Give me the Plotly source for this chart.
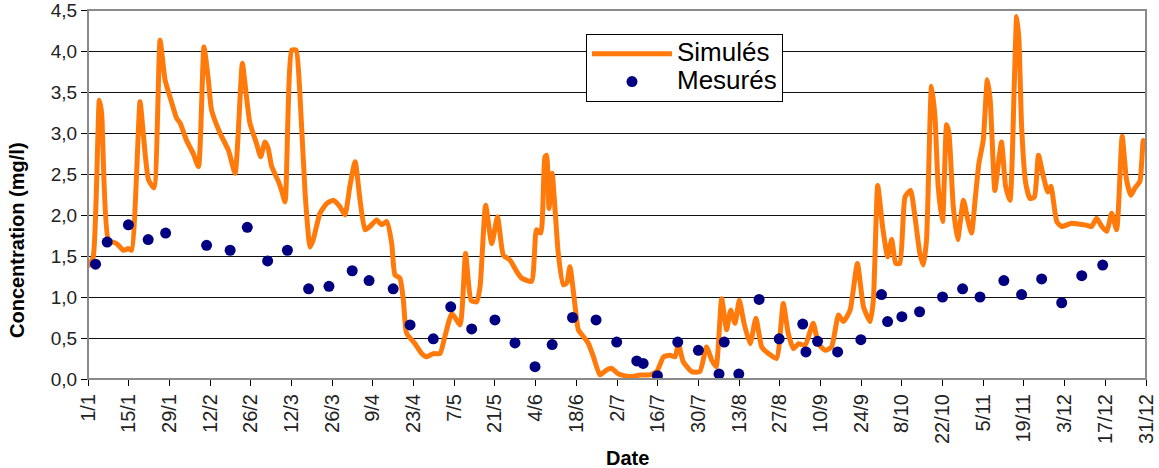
import plotly.graph_objects as go

# Simulated concentration (day of year, mg/l)
sim_day = [0, 1.8, 3.9, 4.7, 7, 9.9, 12.2, 13.9, 15, 17.9, 19, 20.8, 22.7, 24.8, 26.5, 28.2,
           30.5, 31.7, 33.9, 36.2, 38, 39.9, 41.4, 42.5, 45.4, 48.3, 50.6, 53.1, 54.4, 55.7,
           58, 59.4, 60.9, 62, 63.2, 65.5, 66.6, 67.8, 70.1, 71.6, 72.9, 74.7, 76.4, 77.5,
           79.8, 82.1, 84.4, 86.7, 88.4, 90.1, 91.9, 93.6, 95.3, 97, 99.3, 101, 102.8, 104.5,
           105.6, 107.3, 108.5, 109.6, 112.5, 114.8, 116.5, 118.8, 121.1, 122.8, 125.2, 128,
           129.9, 131.8, 133.7, 134.9, 136.8, 138.9, 140.9, 142.9, 145.2, 147.5, 149.2, 152.6,
           154.3, 155.8, 157.2, 157.8, 158.6, 159.7, 160.7, 161.8, 163.5, 164.7, 165.8, 167.6,
           168.7, 170.4, 172.2, 173.9, 176.1, 178.4, 180.2, 182.5, 186.5, 190, 193.3, 195.7,
           198, 200.2, 202, 203.1, 204.8, 207.7, 210.5, 212.8, 214.6, 216.1, 218, 219.7, 221.1,
           222.6, 224.1, 225.7, 227.8, 229.8, 231.8, 234.1, 236.9, 239.2, 240.9, 242.7, 244.5,
           246.7, 249.5, 251.3, 253.6, 255.8, 258.2, 259.9, 262.2, 264.7, 266.8, 269.1, 270.2,
           271.7, 273.4, 275.1, 276.5, 277.9, 279.3, 281.1, 283, 284.5, 286.2, 287.4, 288.5,
           290.2, 291.4, 292.5, 294, 295.4, 296.2, 297.7, 299.2, 301.2, 302.7, 304, 305.2, 306.5,
           308, 309.4, 310.4, 312, 313.2, 314.3, 315.7, 317.2, 318.7, 319.5, 320.3, 321.2, 322.6,
           324.1, 325.6, 327, 328.7, 330.2, 331.3, 333.3, 335, 338.4, 340.7, 343, 345.3, 347,
           348.8, 350.5, 352.2, 353.9, 355.8, 357.3, 358.8, 360.2, 361.9, 363.1, 364]
sim_val = [1.37, 1.49, 3.40, 3.24, 1.70, 1.65, 1.57, 1.59, 1.57, 3.38, 3.0, 2.43, 2.33, 4.13, 3.65, 3.44,
           3.18, 3.12, 2.91, 2.75, 2.59, 4.05, 3.65, 3.28, 3.0, 2.79, 2.51, 3.85, 3.48, 3.12,
           2.87, 2.71, 2.89, 2.81, 2.59, 2.41, 2.30, 2.16, 4.01, 4.01, 3.48, 2.26, 1.61, 1.70,
           2.02, 2.14, 2.18, 2.10, 2.0, 2.35, 2.65, 2.18, 1.82, 1.86, 1.94, 1.88, 1.92, 1.65,
           1.27, 1.23, 0.96, 0.56, 0.43, 0.31, 0.27, 0.31, 0.31, 0.52, 0.80, 0.66,
           1.53, 0.96, 0.94, 1.13, 2.12, 1.65, 1.98, 1.51, 1.45, 1.31, 1.23, 1.19,
           1.82, 1.78, 2.71, 2.73, 2.08, 2.51, 2.06, 1.53, 1.15, 1.17, 1.37, 0.88,
           0.60, 0.52, 0.43, 0.27, 0.05, 0.11, 0.13, 0.06, 0.03, 0.05, 0.05, 0.09,
           0.27, 0.29, 0.27, 0.43, 0.21, 0.09, 0.09, 0.39, 0.23, 0.15, 0.98, 0.60, 0.84,
           0.68, 0.96, 0.68, 0.43, 0.74, 0.39, 0.31, 0.25, 0.92, 0.56, 0.37, 0.43,
           0.41, 0.68, 0.43, 0.35, 0.39, 0.78, 0.70, 0.84, 1.41, 0.88, 0.70, 0.96,
           2.36, 1.85, 1.49, 1.70, 1.41, 1.41, 2.22, 2.30, 1.98, 1.53, 1.39, 1.70,
           3.57, 3.20, 2.35, 1.92, 3.10, 3.0, 2.10, 1.70, 2.18, 1.94, 1.78, 2.18, 2.63,
           2.91, 3.65, 3.40, 2.30, 2.63, 2.89, 2.35, 2.18, 3.61, 4.42, 4.13, 3.08, 2.39,
           2.20, 2.22, 2.73, 2.47, 2.28, 2.35, 1.92, 1.86, 1.90, 1.89, 1.88, 1.86, 1.96,
           1.86, 1.80, 2.02, 1.82, 2.96, 2.43, 2.24, 2.33, 2.41, 2.91, 2.81]

# Measured concentration (day of year, mg/l)
mes_day = [2.6, 6.6, 13.9, 20.7, 26.7, 40.8, 48.9, 54.8, 61.8, 68.6, 75.9, 82.9, 90.9, 96.7,
           105, 110.8, 118.8, 124.8, 132, 140, 146.9, 153.8, 159.7, 166.7, 174.8, 181.9,
           188.8, 191, 195.9, 202.9, 210, 217.1, 218.9, 223.9, 230.9, 237.8, 245.9, 247,
           251, 257.9, 265.9, 273, 275.1, 280, 286.1, 294, 300.9, 306.9, 315.1, 321.2,
           328.1, 335, 341.9, 349.1]
mes_val = [1.40, 1.67, 1.88, 1.70, 1.78, 1.63, 1.57, 1.85, 1.44, 1.57, 1.10, 1.13, 1.32, 1.20,
           1.10, 0.66, 0.49, 0.88, 0.61, 0.72, 0.44, 0.15, 0.42, 0.75, 0.72, 0.45,
           0.22, 0.19, 0.04, 0.45, 0.35, 0.06, 0.45, 0.06, 0.97, 0.49, 0.67, 0.33,
           0.46, 0.33, 0.48, 1.03, 0.70, 0.76, 0.82, 1.00, 1.10, 1.00, 1.20, 1.03,
           1.22, 0.93, 1.26, 1.39]

tick_days = list(range(0, 365, 14))
tick_labels = ["1/1", "15/1", "29/1", "12/2", "26/2", "12/3", "26/3", "9/4", "23/4", "7/5",
               "21/5", "4/6", "18/6", "2/7", "16/7", "30/7", "13/8", "27/8", "10/9", "24/9",
               "8/10", "22/10", "5/11", "19/11", "3/12", "17/12", "31/12"]

FONT = "Liberation Sans, Arial, sans-serif"


def legend_label(text):
    # larger glyphs than the legend font, while rows keep the legend's tighter spacing
    return '<span style="font-size:26px">' + text + '</span>'


fig = go.Figure()
fig.add_trace(go.Scatter(
    x=sim_day, y=sim_val, mode="lines", name=legend_label("Simulés"),
    line=dict(color="#FF7A0A", width=5, shape="spline", smoothing=0.5),
))
fig.add_trace(go.Scatter(
    x=mes_day, y=mes_val, mode="markers", name=legend_label("Mesurés"),
    marker=dict(color="#000080", size=11, line=dict(width=0)),
))

fig.update_layout(
    width=1159, height=468,
    margin=dict(l=88, r=13, t=10, b=89, autoexpand=False),
    paper_bgcolor="white", plot_bgcolor="white",
    separators=", ",
    font=dict(family=FONT, color="#222"),
    showlegend=True,
    legend=dict(
        x=(586 - 88) / 1058, y=(379 - 34) / 369, xanchor="left", yanchor="top",
        bgcolor="white", bordercolor="black", borderwidth=1,
        font=dict(family=FONT, size=19, color="black"),
        itemwidth=80, tracegroupgap=0,
    ),
    xaxis=dict(
        range=[0, 364], tickmode="array", tickvals=tick_days, ticktext=tick_labels,
        tickangle=-90, tickfont=dict(size=20, color="#222"), automargin=False,
        showgrid=False, zeroline=False,
        showline=True, linecolor="black", linewidth=1,
        ticks="outside", ticklen=6, tickcolor="black",
    ),
    yaxis=dict(
        range=[0, 4.5], dtick=0.5, tick0=0, tickformat=".1f",
        tickfont=dict(size=19, color="#222"), automargin=False,
        ticklabeloverflow="allow",
        showgrid=True, gridcolor="#111", gridwidth=1, zeroline=False,
        showline=True, linecolor="#444", linewidth=1,
        ticks="outside", ticklen=6, tickcolor="black",
    ),
    shapes=[dict(type="rect", xref="paper", yref="paper", x0=0, x1=1, y0=0, y1=1,
                 line=dict(color="#8a8a8a", width=2), layer="above")],
    annotations=[
        dict(text="<b>Concentration (mg/l)</b>", textangle=-90, xref="paper", yref="paper",
             x=(17 - 88) / 1058, y=(379 - 240) / 369, xanchor="center", yanchor="middle",
             showarrow=False, font=dict(family=FONT, size=20, color="black")),
        dict(text="<b>Date</b>", xref="paper", yref="paper",
             x=(627 - 88) / 1058, y=(379 - 445) / 369, xanchor="center", yanchor="top",
             showarrow=False, font=dict(family=FONT, size=20, color="black")),
    ],
)

fig.write_html("out.html")
